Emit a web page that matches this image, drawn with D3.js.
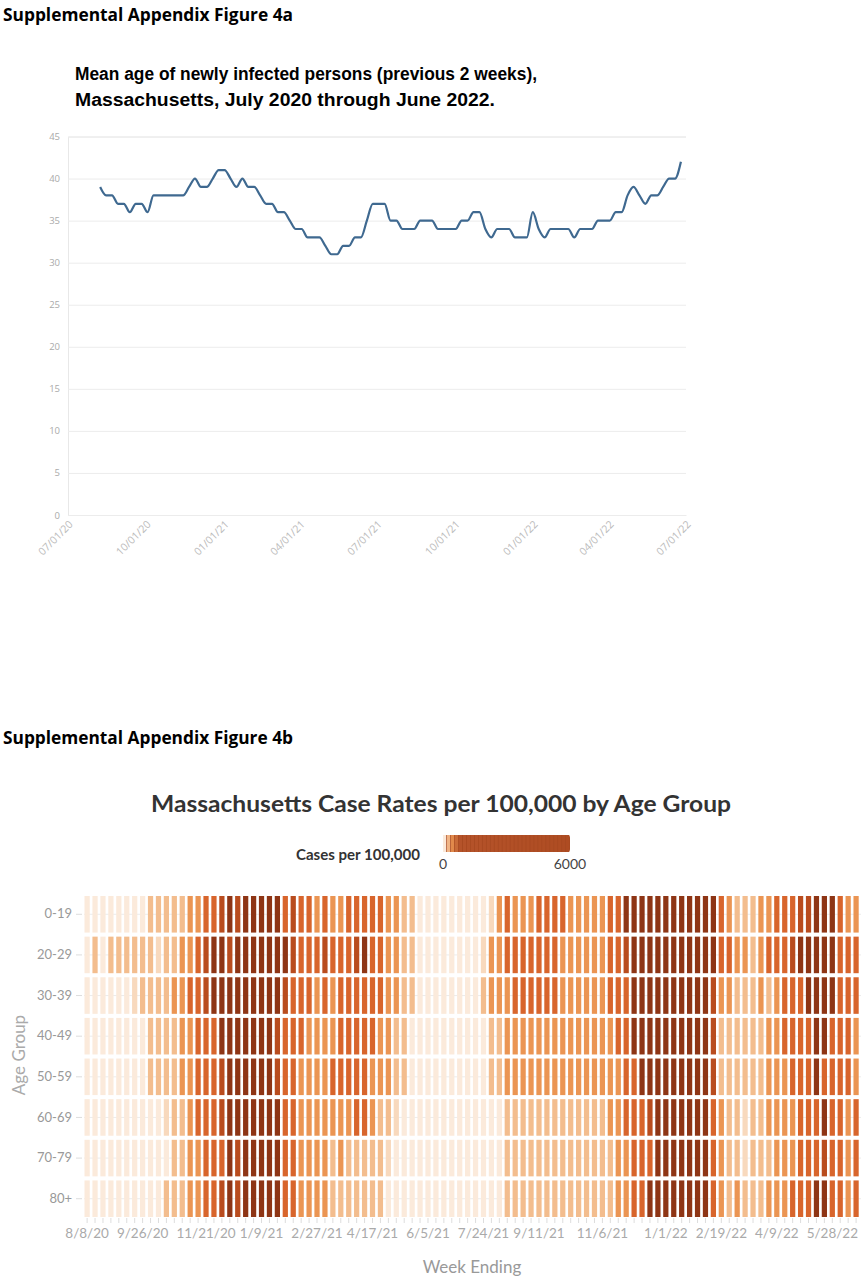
<!DOCTYPE html>
<html>
<head>
<meta charset="utf-8">
<script src="https://cdn.jsdelivr.net/npm/d3@7"></script>
<style>
  body { margin: 0; background: #fff; }
  svg { display: block; }
</style>
</head>
<body>
<svg id="chart" width="863" height="1280"></svg>
<script>
// ---- figure 4a: mean age, one point per week ending (first week 8/8/20)
var firstWeek = new Date(2020, 7, 8);
var meanAge = [
  39, 38, 38, 37, 37, 36, 37, 37, 36, 38,
  38, 38, 38, 38, 38, 39, 40, 39, 39, 40,
  41, 41, 40, 39, 40, 39, 39, 38, 37, 37,
  36, 36, 35, 34, 34, 33, 33, 33, 32, 31,
  31, 32, 32, 33, 33, 35, 37, 37, 37, 35,
  35, 34, 34, 34, 35, 35, 35, 34, 34, 34,
  34, 35, 35, 36, 36, 34, 33, 34, 34, 34,
  33, 33, 33, 36, 34, 33, 34, 34, 34, 34,
  33, 34, 34, 34, 35, 35, 35, 36, 36, 38,
  39, 38, 37, 38, 38, 39, 40, 40, 42
];
var ageTicks = [0, 5, 10, 15, 20, 25, 30, 35, 40, 45];
var quarterTicks = ['2020-07-01', '2020-10-01', '2021-01-01', '2021-04-01', '2021-07-01',
  '2021-10-01', '2022-01-01', '2022-04-01', '2022-07-01'];

// ---- figure 4b: case rates per 100,000, one digit per week = colour bin
var ageGroups = ['0-19', '20-29', '30-39', '40-49', '50-59', '60-69', '70-79', '80+'];
var binRates = [15, 55, 120, 230, 390, 600, 950];   // typical rate for each bin
var bins0_19 = '0000000022' + '2223344565' + '6666645443' + '4334444433' + '2200000000' +
               '0134333444' + '4333334466' + '6666666666' + '4322233444' + '55666433';
var bins20_29 = '0202222221' + '2233456656' + '6666665444' + '5444564433' + '2200000000' +
                '1334444444' + '3333334456' + '6666666666' + '4433234445' + '66666444';
var bins30_39 = '0000001222' + '2334456666' + '6666654443' + '4344444433' + '2200000000' +
                '2333444444' + '3333334446' + '6666666665' + '3322232344' + '46666444';
var bins40_49 = '0000000022' + '2233444666' + '6666544433' + '3344444332' + '2000000000' +
                '0223333333' + '3333333446' + '6666666665' + '2222223344' + '44664443';
var bins50_59 = '0000000022' + '2233444566' + '6666544333' + '3444443332' + '2000000000' +
                '0223333333' + '3333333344' + '6666666665' + '2222223334' + '44644443';
var bins60_69 = '0000000000' + '1223444566' + '6666644333' + '3333443221' + '0000000000' +
                '0002222222' + '2222223344' + '4566666664' + '3221223333' + '44464434';
var bins70_79 = '0000000000' + '0223344465' + '6666644333' + '3232222210' + '0000000000' +
                '0002222222' + '2222222334' + '4466666664' + '3221222333' + '44454434';
var bins80p   = '0000000000' + '2223344565' + '6666644333' + '3222222200' + '0000000000' +
                '0002222222' + '2222222334' + '4666666664' + '3232223334' + '44664434';
var weekLabels = ['8/8/20', '9/26/20', '11/21/20', '1/9/21', '2/27/21', '4/17/21', '6/5/21',
  '7/24/21', '9/11/21', '11/6/21', '1/1/22', '2/19/22', '4/9/22', '5/28/22'];
var binColors = ['#fbeadb', '#f8d9bd', '#f3bd8e', '#eb9553', '#d8652c', '#b94c1e', '#8e3515'];

var svg = d3.select('#chart');
var fmtWeek = d3.timeFormat('%-m/%-d/%y');

// titles
svg.append('text')
  .attr('x', 3).attr('y', 21)
  .attr('textLength', 290)
  .attr('lengthAdjust', 'spacingAndGlyphs')
  .style('font', 'bold 17px "Open Sans", sans-serif')
  .attr('fill', '#000')
  .text('Supplemental Appendix Figure 4a');

svg.append('text')
  .attr('x', 75).attr('y', 80)
  .attr('textLength', 462)
  .attr('lengthAdjust', 'spacingAndGlyphs')
  .style('font', 'bold 18px "Liberation Sans", Arial, sans-serif')
  .text('Mean age of newly infected persons (previous 2 weeks),');
svg.append('text')
  .attr('x', 75).attr('y', 106)
  .attr('textLength', 420)
  .attr('lengthAdjust', 'spacingAndGlyphs')
  .style('font', 'bold 18px "Liberation Sans", Arial, sans-serif')
  .text('Massachusetts, July 2020 through June 2022.');

// ---------- line chart ----------
var lineData = meanAge.map(function(v, i) {
  return {date: d3.timeDay.offset(firstWeek, 7 * i), value: v};
});

var x = d3.scaleTime()
  .domain([new Date(2020, 6, 1), new Date(2022, 6, 1)])
  .range([68, 686]);
var y = d3.scaleLinear()
  .domain([0, 45])
  .range([515, 136.5]);

var yAxis = svg.append('g')
  .attr('transform', 'translate(68,0)')
  .call(d3.axisLeft(y).tickValues(ageTicks).tickSize(-618).tickPadding(8));
yAxis.select('.domain').attr('stroke', '#e8e8e8');
yAxis.selectAll('.tick line').attr('stroke', '#ececec');
yAxis.selectAll('.tick text')
  .attr('fill', '#aaa')
  .style('font', '9.5px "Open Sans", sans-serif');

var xAxis = svg.append('g')
  .attr('transform', 'translate(0,515)')
  .call(d3.axisBottom(x)
    .tickValues(quarterTicks.map(function(d) { return d3.timeParse('%Y-%m-%d')(d); }))
    .tickSize(0)
    .tickFormat(d3.timeFormat('%m/%d/%y')));
xAxis.select('.domain').attr('stroke', '#ececec');
xAxis.selectAll('.tick text')
  .attr('fill', '#bbb')
  .style('font', '10.5px "Open Sans", sans-serif')
  .attr('text-anchor', 'end')
  .attr('dx', '0').attr('dy', '0')
  .attr('transform', 'translate(3,8) rotate(-45)');

var line = d3.line()
  .x(function(d) { return x(d.date); })
  .y(function(d) { return y(d.value); })
  .curve(d3.curveMonotoneX);

svg.append('path')
  .datum(lineData)
  .attr('d', line)
  .attr('fill', 'none')
  .attr('stroke', '#3f6990')
  .attr('stroke-width', 2.2)
  .attr('stroke-linejoin', 'round');

// ---------- heatmap ----------
svg.append('text')
  .attr('x', 3).attr('y', 744)
  .attr('textLength', 290)
  .attr('lengthAdjust', 'spacingAndGlyphs')
  .style('font', 'bold 17px "Open Sans", sans-serif')
  .text('Supplemental Appendix Figure 4b');

svg.append('text')
  .attr('x', 441).attr('y', 812)
  .attr('text-anchor', 'middle')
  .attr('fill', '#333')
  .attr('textLength', 580)
  .attr('lengthAdjust', 'spacingAndGlyphs')
  .style('font', 'bold 23px Lato, sans-serif')
  .text('Massachusetts Case Rates per 100,000 by Age Group');

// legend
svg.append('text')
  .attr('x', 420).attr('y', 860)
  .attr('text-anchor', 'end')
  .attr('fill', '#333')
  .attr('textLength', 124)
  .attr('lengthAdjust', 'spacingAndGlyphs')
  .style('font', 'bold 14.5px Lato, sans-serif')
  .text('Cases per 100,000');

var legendX = d3.scaleLinear().domain([0, 6000]).range([443, 570]);
var legendColor = d3.scaleLinear()
  .domain([0, 300, 700, 6000])
  .range(['#fbeadb', '#eb9553', '#b5532a', '#ae4c22']);
var legendSteps = d3.range(0, 6000, 6000 / 32);
svg.append('rect')
  .attr('x', 443).attr('y', 835)
  .attr('width', 127).attr('height', 17)
  .attr('rx', 3)
  .attr('fill', '#a64820');
svg.append('g').selectAll('rect')
  .data(legendSteps)
  .join('rect')
  .attr('x', function(d) { return legendX(d); })
  .attr('y', 835)
  .attr('width', 127 / 32 - 0.7)
  .attr('height', 17)
  .attr('fill', function(d) { return legendColor(d); });
svg.append('g').selectAll('text')
  .data([0, 6000])
  .join('text')
  .attr('x', function(d) { return legendX(d); })
  .attr('y', 869)
  .attr('text-anchor', 'middle')
  .attr('fill', '#444')
  .style('font', '14px Lato, sans-serif')
  .text(function(d) { return d; });

var heatRows = [bins0_19, bins20_29, bins30_39, bins40_49, bins50_59, bins60_69, bins70_79, bins80p];
var weeks = d3.range(98).map(function(i) { return d3.timeDay.offset(firstWeek, 7 * i); });

var cells = [];
heatRows.forEach(function(str, r) {
  weeks.forEach(function(w, c) {
    cells.push({group: ageGroups[r], week: w, rate: binRates[+str.charAt(c)]});
  });
});

var xb = d3.scaleBand()
  .domain(weeks)
  .range([84.5, 858.7])
  .paddingInner(0.34);
var yb = d3.scaleBand()
  .domain(ageGroups)
  .range([896, 1217])
  .paddingInner(0.1);
var color = d3.scaleThreshold()
  .domain([30, 80, 170, 300, 480, 750])
  .range(binColors);

// faint row guides behind the cells
svg.append('g').selectAll('line')
  .data(ageGroups)
  .join('line')
  .attr('x1', 84).attr('x2', 861)
  .attr('y1', function(d) { return yb(d) + yb.bandwidth() / 2; })
  .attr('y2', function(d) { return yb(d) + yb.bandwidth() / 2; })
  .attr('stroke', '#ececec');

svg.append('g').selectAll('rect')
  .data(cells)
  .join('rect')
  .attr('x', function(d) { return xb(d.week); })
  .attr('y', function(d) { return yb(d.group); })
  .attr('width', xb.bandwidth())
  .attr('height', yb.bandwidth())
  .attr('fill', function(d) { return color(d.rate); });

var hy = svg.append('g')
  .attr('transform', 'translate(82,0)')
  .call(d3.axisLeft(yb).tickSize(6).tickPadding(4));
hy.select('.domain').remove();
hy.selectAll('.tick line').attr('stroke', '#ddd');
hy.selectAll('.tick text')
  .attr('fill', '#999')
  .style('font', '13px Lato, sans-serif');

var hx = svg.append('g')
  .attr('transform', 'translate(0,1218)')
  .call(d3.axisBottom(xb)
    .tickSize(5)
    .tickPadding(5)
    .tickFormat(function(d) {
      var s = fmtWeek(d);
      return weekLabels.indexOf(s) >= 0 ? s : '';
    }));
hx.select('.domain').remove();
hx.selectAll('.tick line').attr('stroke', '#ddd');
hx.selectAll('.tick text')
  .attr('fill', '#aaa')
  .style('font', '13.5px Lato, sans-serif');

svg.append('text')
  .attr('transform', 'translate(25,1055) rotate(-90)')
  .attr('text-anchor', 'middle')
  .attr('fill', '#aaa')
  .style('font', '17px Lato, sans-serif')
  .text('Age Group');

svg.append('text')
  .attr('x', 472).attr('y', 1273)
  .attr('text-anchor', 'middle')
  .attr('fill', '#999')
  .style('font', '17px Lato, sans-serif')
  .text('Week Ending');
</script>
</body>
</html>
